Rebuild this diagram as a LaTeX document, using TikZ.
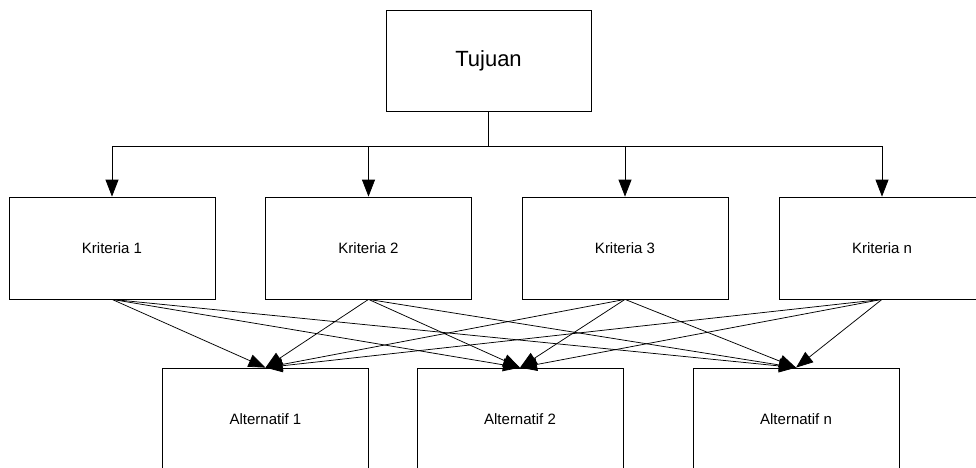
\documentclass[tikz,border=0pt]{standalone}
\usepackage{fontspec}
\setmainfont{Liberation Sans}
\usepackage{tikz}
\usetikzlibrary{arrows.meta}
\tikzstyle{kotak}=[draw, line width=0.75pt, minimum width=206pt,
  minimum height=102pt, inner sep=0pt, text centered, font=\fontsize{15}{18}\selectfont]
\tikzstyle{tujuan}=[kotak, minimum width=205pt, minimum height=101pt,
  font=\fontsize{22}{26}\selectfont]
\tikzstyle{line}=[draw, line width=0.75pt, color=black,
  -{Triangle[length=17pt,width=13pt]}]
\newcommand{\kotak}[2]{node (p#1) [kotak] {#2}}
\begin{document}
\begin{tikzpicture}[x=1pt,y=-1pt]
  \useasboundingbox (0,0) rectangle (976,467);

  % Draw diagram elements
  \path (488.5,60.5) node (pTujuan) [tujuan] {Tujuan};
  \path (112,248) \kotak{K1}{Kriteria 1};
  \path (368.5,248) \kotak{K2}{Kriteria 2};
  \path (625,248) \kotak{K3}{Kriteria 3};
  \path (882,248) \kotak{Kn}{Kriteria n};
  \path (265.5,419) \kotak{A1}{Alternatif 1};
  \path (520,419) \kotak{A2}{Alternatif 2};
  \path (796,419) \kotak{An}{Alternatif n};

  % Draw arrows between elements
  \path [line] (pTujuan.south) -- +(0,35) -| (pK1.north);
  \path [line] (pTujuan.south) -- +(0,35) -| (pK2.north);
  \path [line] (pTujuan.south) -- +(0,35) -| (pK3.north);
  \path [line] (pTujuan.south) -- +(0,35) -| (pKn.north);

  \path [line] (pK1.south) -- (pA1.north);
  \path [line] (pK1.south) -- (pA2.north);
  \path [line] (pK1.south) -- (pAn.north);
  \path [line] (pK2.south) -- (pA1.north);
  \path [line] (pK2.south) -- (pA2.north);
  \path [line] (pK2.south) -- (pAn.north);
  \path [line] (pK3.south) -- (pA1.north);
  \path [line] (pK3.south) -- (pA2.north);
  \path [line] (pK3.south) -- (pAn.north);
  \path [line] (pKn.south) -- (pA1.north);
  \path [line] (pKn.south) -- (pA2.north);
  \path [line] (pKn.south) -- (pAn.north);
\end{tikzpicture}
\end{document}
